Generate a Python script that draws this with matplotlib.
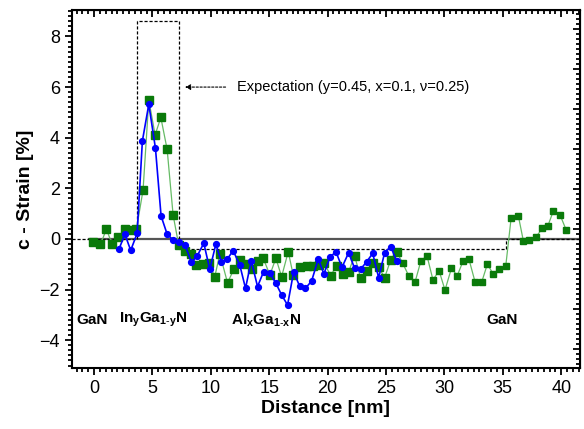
import numpy as np
import matplotlib
matplotlib.use("Agg")
import matplotlib.pyplot as plt
from matplotlib.ticker import MultipleLocator

plt.rcParams['font.family'] = ['Liberation Sans', 'DejaVu Sans']
plt.rcParams['mathtext.fontset'] = 'custom'
plt.rcParams['mathtext.rm'] = 'Liberation Sans'
plt.rcParams['mathtext.bf'] = 'Liberation Sans:bold'

# blue series (circles)
blue_x = [2.13, 2.64, 3.14, 3.69, 4.14, 4.69, 5.26, 5.74, 6.26, 6.77, 7.28, 7.80,
          8.34, 8.83, 9.40, 9.91, 10.43, 10.90, 11.40, 11.91, 12.48, 12.97, 13.46,
          14.00, 14.52, 15.03, 15.55, 16.06, 16.57, 17.09, 17.60, 18.10, 18.63,
          19.20, 19.68, 20.20, 20.71, 21.23, 21.80, 22.31, 22.83, 23.34, 23.86,
          24.37, 24.88, 25.40, 25.91]
blue_y = [-0.41, 0.19, -0.45, 0.22, 3.87, 5.32, 3.58, 0.91, 0.19, -0.04, -0.13, -0.25,
          -0.92, -0.67, -0.17, -1.20, -0.21, -0.90, -0.80, -0.46, -1.03, -1.95, -0.86,
          -1.88, -1.29, -1.33, -1.73, -2.21, -2.61, -1.30, -1.86, -1.95, -1.66,
          -0.79, -1.38, -0.72, -0.50, -1.12, -0.54, -1.16, -1.19, -0.90, -0.57,
          -1.53, -0.54, -0.30, -0.87]

# green series, first part (large squares)
green_x_a = [-0.08, 0.55, 1.06, 1.55, 2.06, 2.63, 3.14, 3.63, 4.20, 4.69, 5.23, 5.72,
             6.26, 6.77, 7.25, 7.77, 8.34, 8.77, 9.34, 9.83, 10.34, 10.77, 11.43,
             11.97, 12.49, 13.00, 13.49, 14.00, 14.48, 15.06, 15.57, 16.06, 16.63,
             17.05, 17.63, 18.20, 18.77, 19.28, 19.70, 20.26, 20.77, 21.28, 21.80,
             22.31, 22.83, 23.34, 23.86, 24.37, 24.88, 25.40, 25.91]
green_y_a = [-0.10, -0.21, 0.38, -0.20, 0.07, 0.38, 0.36, 0.38, 1.94, 5.49, 4.11, 4.80,
             3.54, 0.95, -0.24, -0.46, -0.59, -1.03, -0.99, -0.96, -1.49, -0.59, -1.73,
             -1.20, -0.83, -0.99, -1.20, -0.86, -0.76, -1.42, -0.76, -1.49, -0.50,
             -1.42, -1.12, -1.07, -1.07, -1.03, -0.94, -1.45, -1.05, -1.38, -1.29,
             -0.66, -1.55, -1.25, -0.94, -1.12, -1.53, -0.83, -0.50]

# green series, second part (small squares)
green_x_b = [26.43, 26.94, 27.48, 27.99, 28.51, 29.02, 29.54, 30.05, 30.60, 31.10,
             31.60, 32.10, 32.62, 33.20, 33.68, 34.19, 34.70, 35.25, 35.71, 36.33,
             36.76, 37.27, 37.82, 38.39, 38.85, 39.33, 39.90, 40.42]
green_y_b = [-0.96, -1.45, -1.71, -0.86, -0.67, -1.62, -1.25, -2.02, -1.16, -1.45,
             -0.87, -0.80, -1.69, -1.69, -0.99, -1.40, -1.20, -1.07, 0.82, 0.91,
             -0.08, -0.04, 0.07, 0.42, 0.51, 1.11, 0.95, 0.36]

# expected strain profile
expect_x = [-1.9, 3.66, 3.66, 7.26, 7.26, 35.3, 35.3, 41.6]
expect_y = [0.0, 0.0, 8.62, 8.62, -0.41, -0.41, 0.0, 0.0]

# layer labels
layer_names = ['GaN', r'In$_\mathbf{y}$Ga$_\mathbf{1\text{-}y}$N',
               r'Al$_\mathbf{x}$Ga$_\mathbf{1\text{-}x}$N', 'GaN']
layer_x = [-1.5, 2.1, 11.7, 33.6]
layer_y = -3.2

fig = plt.figure(figsize=(5.84, 4.29), dpi=100)
ax = fig.add_axes([0.123, 0.142, 0.870, 0.835])

ax.plot([-0.4, 41.6], [0, 0], color='#555555', lw=1.6, zorder=1)
ax.plot(expect_x, expect_y, color='black', lw=0.9, ls=(0, (2.5, 1.5)), zorder=2)

# green: one connecting line, two marker sizes
ax.plot(green_x_a + green_x_b, green_y_a + green_y_b, color='#66bb66', lw=0.9, zorder=3)
ax.plot(green_x_a, green_y_a, 's', color='#0a7a0a', ms=5.4, zorder=4)
ax.plot(green_x_b, green_y_b, 's', color='#0a7a0a', ms=4.2, zorder=4)

ax.plot(blue_x, blue_y, '-o', color='#0000ff', lw=1.2, ms=4.2, zorder=5)

ax.annotate('', xy=(7.55, 6.0), xytext=(11.5, 6.0),
            arrowprops=dict(arrowstyle='-|>', color='black', lw=0.8,
                            ls=(0, (2, 1.5)), mutation_scale=8))
ax.text(12.2, 6.0, 'Expectation (y=0.45, x=0.1, \u03bd=0.25)', fontsize=10.5,
        va='center', ha='left')

for name, lx in zip(layer_names, layer_x):
    ax.text(lx, layer_y, name, fontsize=11, fontweight='bold', va='center', ha='left')

ax.set_xlim(-1.9, 41.6)
ax.set_ylim(-5.1, 9.05)
ax.xaxis.set_major_locator(MultipleLocator(5))
ax.xaxis.set_minor_locator(MultipleLocator(0.5))
ax.yaxis.set_major_locator(MultipleLocator(2))
ax.yaxis.set_minor_locator(MultipleLocator(0.2))
ax.tick_params(which='both', direction='out', width=1.3, labelsize=13)
ax.tick_params(which='major', length=5)
ax.tick_params(which='minor', length=3)

# inward ticks on top and right (right axis has its own unlabeled scale)
top = ax.secondary_xaxis('top')
right = ax.secondary_yaxis('right', functions=(lambda y: (y - 0.4) / 1.58,
                                               lambda r: r * 1.58 + 0.4))
top.xaxis.set_major_locator(MultipleLocator(5))
top.xaxis.set_minor_locator(MultipleLocator(0.5))
right.yaxis.set_major_locator(MultipleLocator(1))
right.yaxis.set_minor_locator(MultipleLocator(0.125))
for s in (top, right):
    s.tick_params(which='both', direction='in', width=1.3)
    s.tick_params(which='major', length=5)
    s.tick_params(which='minor', length=3)
top.set_xticklabels([])
right.set_yticklabels([])

for s in ax.spines.values():
    s.set_linewidth(1.5)

ax.set_xlabel('Distance [nm]', fontsize=14, fontweight='bold', labelpad=2)
ax.set_ylabel('c - Strain [%]', fontsize=14, fontweight='bold', labelpad=4)

fig.savefig('out.png', dpi=100)
